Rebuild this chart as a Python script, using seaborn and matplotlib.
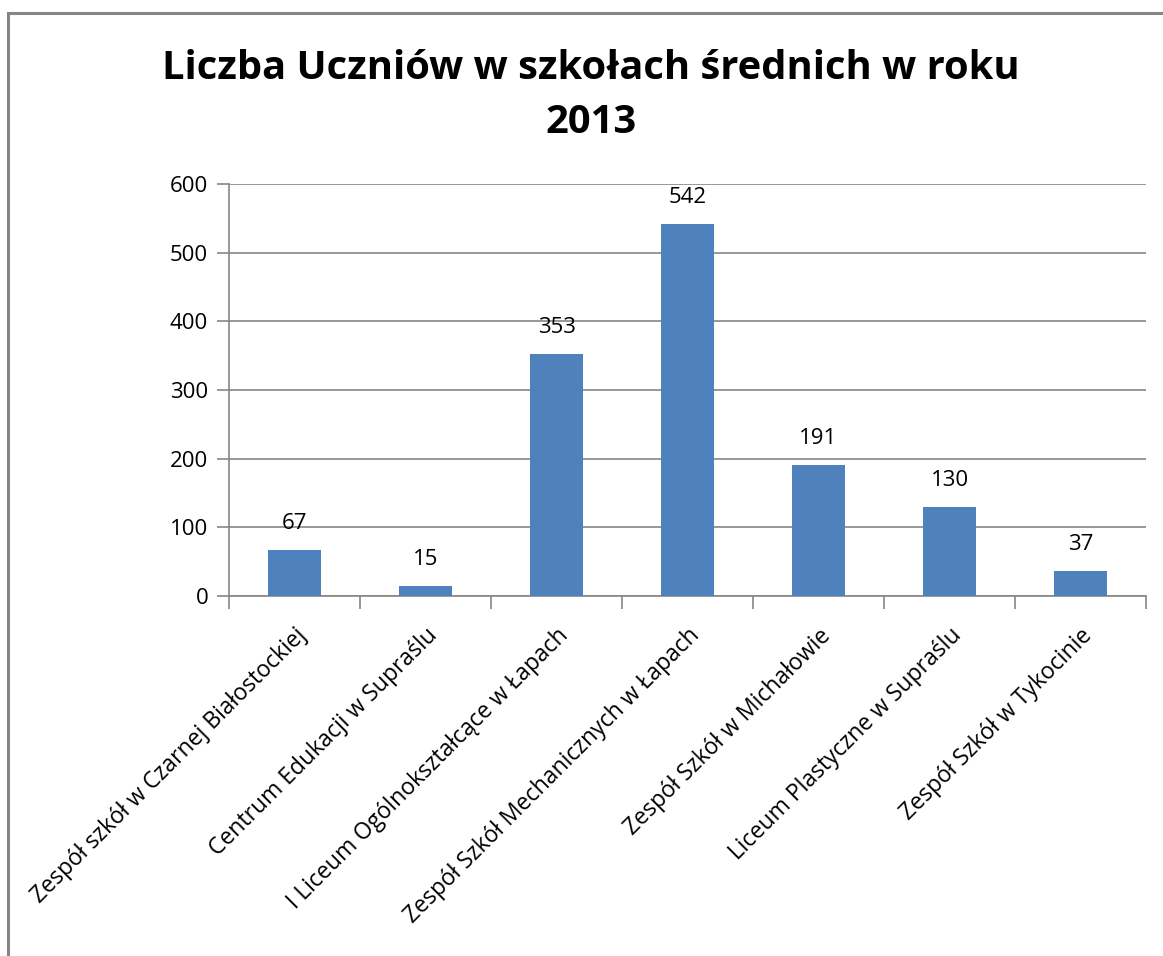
import matplotlib
matplotlib.use("Agg")
import matplotlib.pyplot as plt
import seaborn as sns
import pandas as pd
from matplotlib.patches import Rectangle

schools = [
    "Zespół szkół w Czarnej Białostockiej",
    "Centrum Edukacji w Supraślu",
    "I Liceum Ogólnokształcące w Łapach",
    "Zespół Szkół Mechanicznych w Łapach",
    "Zespół Szkół w Michałowie",
    "Liceum Plastyczne w Supraślu",
    "Zespół Szkół w Tykocinie",
]
students = [67, 15, 353, 542, 191, 130, 37]

df = pd.DataFrame({"szkola": schools, "uczniowie": students})

sns.set_style("white")
plt.rcParams["font.family"] = ["Open Sans", "DejaVu Sans"]
plt.rcParams["text.color"] = "black"
plt.rcParams["xtick.color"] = "black"
plt.rcParams["ytick.color"] = "black"

fig = plt.figure(figsize=(11.63, 9.56), dpi=100)
ax = fig.add_axes([0.1969, 0.3766, 0.7885, 0.4309])

sns.barplot(data=df, x="szkola", y="uczniowie", color="#4F81BD",
            width=0.4, saturation=1, linewidth=0, ax=ax, zorder=3)

ax.set_ylim(0, 600)
ax.set_xlim(-0.5, len(schools) - 0.5)
ax.set_yticks(range(0, 601, 100))
ax.yaxis.grid(True, color="#868686", linewidth=1.2, zorder=0)
ax.set_axisbelow(True)
for s in ["top", "right"]:
    ax.spines[s].set_visible(False)
ax.spines["left"].set_color("#868686")
ax.spines["bottom"].set_color("#868686")
ax.spines["left"].set_linewidth(1.2)
ax.spines["bottom"].set_linewidth(1.2)

ax.set_xticks([i - 0.5 for i in range(len(schools) + 1)], minor=False)
ax.set_xticklabels([])
ax.set_xticks(range(len(schools)), minor=True)
ax.set_xticklabels(schools, minor=True, rotation=45, ha="right",
                   rotation_mode="anchor", fontsize=16.5)
ax.tick_params(axis="x", which="major", length=9, color="#868686", width=1.2,
               direction="out", bottom=True)
ax.tick_params(axis="x", which="minor", length=0, pad=20)
ax.tick_params(axis="y", length=9, color="#868686", width=1.2, direction="out",
               left=True, labelsize=16, pad=6)
ax.set_xlabel("")
ax.set_ylabel("")

for i, v in enumerate(students):
    ax.annotate(str(v), (i, v), xytext=(0, 19), textcoords="offset points",
                ha="center", va="center", fontsize=16)

fig.text(0.508, 0.9006, "Liczba Uczniów w szkołach średnich w roku\n2013",
         ha="center", va="center", fontsize=28.7, fontweight="bold",
         linespacing=1.5)

fig.patches.append(Rectangle((8 / 1163, -0.1), 1.2, 1.1 - 13 / 956,
                             transform=fig.transFigure, fill=False,
                             edgecolor="#868686", linewidth=2.2))

fig.savefig("out.png", dpi=100)
